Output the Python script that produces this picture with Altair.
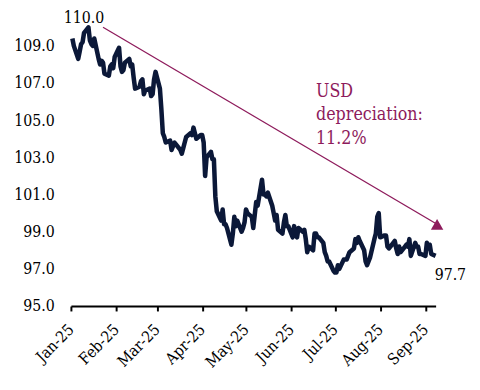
import altair as alt
import pandas as pd

# Dollar index, daily closes (business days 2 Jan 2025 - 8 Sep 2025)
values = [
    109.4, 109.0,
    108.3, 108.7, 109.1, 109.2, 109.7,
    110.0, 109.3, 109.1, 109.0, 109.4,
    108.3, 108.0, 108.2, 108.1, 107.5,
    107.4, 107.9, 108.0, 107.8, 108.4,
    108.9, 107.9, 107.6, 107.7, 108.1,
    108.3, 107.9, 108.0, 107.3, 106.7,
    106.8, 107.1, 107.2, 106.4, 106.6,
    106.7, 106.3, 106.4, 107.2, 107.6,
    106.7, 105.6, 104.3, 104.1, 103.8,
    103.9, 103.4, 103.6, 103.8, 103.7,
    103.4, 103.2, 103.5, 103.8, 104.1,
    104.3, 104.2, 104.6, 104.3, 104.0,
    104.2, 104.2, 103.8, 102.0, 103.0,
    103.3, 102.9, 102.9, 100.9, 100.1,
    99.6, 100.2, 99.4, 99.4, 99.2,
    98.3, 98.9, 99.8, 99.3, 99.6,
    99.0, 99.2, 99.5, 100.2, 100.0,
    99.8, 99.2, 99.9, 100.6, 100.4,
    101.8, 101.0, 101.0, 100.9, 101.1,
    100.4, 100.0, 99.6, 99.9, 99.1,
    98.9, 99.5, 99.9, 99.3, 99.3,
    98.7, 99.3, 98.8, 98.7, 99.2,
    99.0, 99.1, 98.6, 97.9, 98.2,
    98.0, 98.9, 98.9, 98.7, 98.7,
    98.4, 97.9, 97.7, 97.4, 97.4,
    96.9, 96.8, 96.8, 97.2, 97.0,
    97.5, 97.5, 97.5, 97.7, 97.9,
    98.1, 98.6, 98.4, 98.7, 98.5,
    98.0, 97.4, 97.2, 97.4, 97.6,
    98.6, 98.9, 99.8, 100.0, 98.7,
    98.8, 98.8, 98.2, 98.1, 98.2,
    98.5, 98.1, 97.8, 98.2, 97.9,
    98.2, 98.3, 98.2, 98.6, 97.7,
    98.4, 98.2, 98.2, 97.8, 97.8,
    97.7, 98.4, 98.1, 98.3, 97.8,
    97.7,
]
dates = pd.bdate_range("2025-01-02", "2025-09-08")
assert len(dates) == len(values)

y_ticks = [95, 97, 99, 101, 103, 105, 107, 109]
month_ticks = [alt.DateTime(year=2025, month=m, date=1) for m in range(1, 10)]

label_dates = ["2025-01-10T00:00:00", "2025-09-08T00:00:00"]
label_values = [110.0, 97.7]
label_texts = ["110.0", "97.7"]

arrow_start = ("2025-01-23T00:00:00", 110.0)
arrow_end = ("2025-09-09T00:00:00", 99.4)
note_pos = ("2025-06-18T00:00:00", 106.27)
note_lines = ["USD", "depreciation:", "11.2%"]

NAVY = "#0B1838"
MAROON = "#8E1B5C"
FONT = "DejaVu Serif Condensed"
FS = 16

df = pd.DataFrame({"date": dates.strftime("%Y-%m-%dT00:00:00"), "value": values})

x_scale = alt.Scale(domain=[alt.DateTime(year=2025, month=1, date=1),
                            alt.DateTime(year=2025, month=9, date=8)])
y_scale = alt.Scale(domain=[95, 110.5], nice=False, zero=False)


def X(field):
    return alt.X(field, scale=x_scale, title=None)


def Y(field):
    return alt.Y(field, scale=y_scale, title=None)


line = alt.Chart(df).mark_line(color=NAVY, strokeWidth=4.6, strokeJoin="round", clip=False).encode(
    x=alt.X("date:T", scale=x_scale,
            axis=alt.Axis(values=month_ticks, format="%b-%y", labelAngle=-45,
                          labelAlign="right", labelBaseline="middle",
                          labelPadding=16, labelFontSize=FS, labelColor="black",
                          labelFont=FONT, domainColor="black", domainWidth=2,
                          tickColor="black", tickWidth=2, tickSize=5,
                          grid=False, title=None, labelOverlap=False)),
    y=alt.Y("value:Q", scale=y_scale,
            axis=alt.Axis(values=y_ticks, format=".1f", domain=False, ticks=False,
                          tickSize=0, grid=False, labelFontSize=FS, labelColor="black",
                          labelFont=FONT, labelPadding=17, title=None)),
)

arrow_df = pd.DataFrame({"x": [arrow_start[0]], "y": [arrow_start[1]],
                         "x2": [arrow_end[0]], "y2": [arrow_end[1]]})
arrow = alt.Chart(arrow_df).mark_rule(color=MAROON, strokeWidth=1.3, clip=False).encode(
    x=X("x:T"), y=Y("y:Q"), x2="x2:T", y2="y2:Q",
)
head_df = pd.DataFrame({"x": [arrow_end[0]], "y": [arrow_end[1]]})
head = alt.Chart(head_df).mark_point(shape="triangle-up", filled=True, size=160,
                                     color=MAROON, opacity=1, clip=False).encode(
    x=X("x:T"), y=Y("y:Q"),
)

lab_df = pd.DataFrame({"date": label_dates, "value": label_values, "text": label_texts})
lab_top = alt.Chart(lab_df.iloc[[0]]).mark_text(font=FONT, fontSize=FS, color="black",
                                                 align="center", baseline="alphabetic", dy=-4).encode(
    x=X("date:T"), y=Y("value:Q"), text="text:N",
)
lab_end = alt.Chart(lab_df.iloc[[1]]).mark_text(font=FONT, fontSize=FS, color="black",
                                                 align="left", baseline="alphabetic", dx=-1, dy=25).encode(
    x=X("date:T"), y=Y("value:Q"), text="text:N",
)

note_df = pd.DataFrame({"date": [note_pos[0]], "value": [note_pos[1]],
                        "text": ["\n".join(note_lines)]})
note = alt.Chart(note_df).mark_text(font=FONT, fontSize=18, color=MAROON, align="left",
                                    baseline="alphabetic", lineBreak="\n", lineHeight=24).encode(
    x=X("date:T"), y=Y("value:Q"), text="text:N",
)

chart = alt.layer(line, arrow, head, lab_top, lab_end, note).properties(
    width=371, height=293,
    autosize=alt.AutoSizeParams(type="none"),
    padding={"left": 64, "top": 7, "right": 37, "bottom": 70},
).configure_view(strokeWidth=0)

chart.save("out.html", embed_options={"renderer": "svg", "actions": False})
